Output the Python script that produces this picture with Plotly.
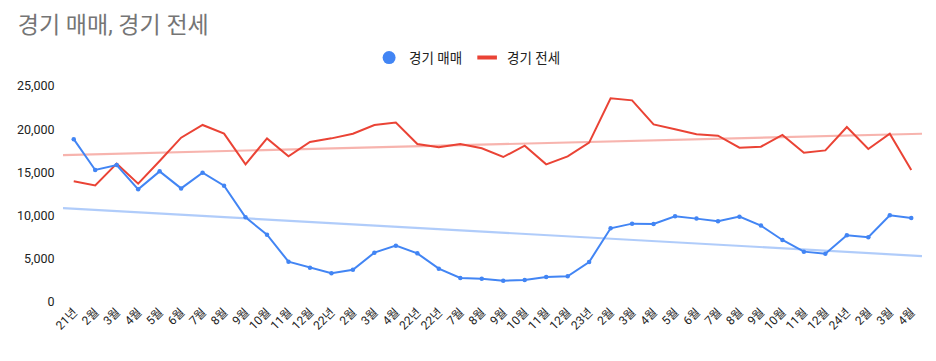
import numpy as np
import plotly.graph_objects as go

labels = ["21년", "2월", "3월", "4월", "5월", "6월", "7월", "8월", "9월", "10월", "11월", "12월",
          "22년", "2월", "3월", "4월", "22년", "22년", "7월", "8월", "9월", "10월", "11월", "12월",
          "23년", "2월", "3월", "4월", "5월", "6월", "7월", "8월", "9월", "10월", "11월", "12월",
          "24년", "2월", "3월", "4월"]

maemae = [18850, 15280, 15850, 13040, 15120, 13150, 14970, 13460, 9800, 7790, 4670, 3970,
          3320, 3740, 5710, 6520, 5630, 3860, 2780, 2680, 2450, 2560, 2900, 2980,
          4630, 8530, 9070, 9030, 9920, 9650, 9340, 9880, 8840, 7180, 5830, 5590,
          7720, 7490, 10030, 9720]

jeonse = [13970, 13500, 16010, 13700, 16320, 19020, 20490, 19480, 15930, 18940, 16860, 18520,
          18940, 19480, 20490, 20760, 18290, 17900, 18290, 17800, 16780, 18090, 15930, 16860,
          18440, 23570, 23340, 20560, 19990, 19410, 19250, 17860, 17980, 19330, 17280, 17550,
          20260, 17710, 19480, 15280]

names = ["경기 매매", "경기 전세"]
BLUE = "#4285F4"
RED = "#EA4335"

x = np.arange(len(labels))
xr = np.array([-0.5, len(labels) - 0.5])

fig = go.Figure()

# trendlines
for vals, col in [(maemae, "rgba(66,133,244,0.42)"), (jeonse, "rgba(234,67,53,0.40)")]:
    m, c = np.polyfit(x, vals, 1)
    fig.add_trace(go.Scatter(x=xr, y=m * xr + c, mode="lines",
                             line=dict(color=col, width=2.2), showlegend=False, hoverinfo="skip"))

fig.add_trace(go.Scatter(x=x, y=jeonse, mode="lines", name=names[1],
                         line=dict(color=RED, width=2), showlegend=False))
fig.add_trace(go.Scatter(x=x, y=maemae, mode="lines+markers", name=names[0],
                         line=dict(color=BLUE, width=2), marker=dict(color=BLUE, size=4.5),
                         showlegend=False))

# legend entries
fig.add_trace(go.Scatter(x=[None], y=[None], mode="markers", name=names[0],
                         marker=dict(color=BLUE, size=13)))
fig.add_trace(go.Scatter(x=[None], y=[None], mode="markers", name=names[1],
                         marker=dict(symbol="line-ew", size=14, color=RED,
                                     line=dict(width=4, color=RED))))

FONT = "Roboto, Arial, 'Noto Sans CJK KR', sans-serif"

fig.update_layout(
    width=936, height=361,
    margin=dict(l=63, r=14, t=86, b=59),
    paper_bgcolor="white", plot_bgcolor="white",
    font=dict(family=FONT, size=12, color="#222222"),
    title=dict(text="경기 매매, 경기 전세", x=0.019, xanchor="left", y=0.93, yanchor="middle",
               font=dict(size=23, color="#757575", family=FONT)),
    legend=dict(orientation="h", x=0.471, xanchor="center", y=0.84, yanchor="middle",
                yref="container", font=dict(size=13.5, color="#222222"),
                itemwidth=30, tracegroupgap=0),
    xaxis=dict(range=[-0.5, len(labels) - 0.5], tickmode="array", tickvals=list(x),
               ticktext=labels, tickangle=-45, showgrid=False, zeroline=False,
               showline=False, ticks="", automargin=False,
               tickfont=dict(size=12, color="#222222")),
    yaxis=dict(range=[0, 25000], tickvals=[0, 5000, 10000, 15000, 20000, 25000],
               tickformat=",", showgrid=False, zeroline=False, showline=False,
               ticks="outside", ticklen=5, tickcolor="rgba(0,0,0,0)",
               automargin=False, tickfont=dict(size=12.5, color="#222222")),
    hovermode=False,
)

fig.write_html("out.html", config={"displayModeBar": False},
               post_script="document.body.style.margin='0';")
